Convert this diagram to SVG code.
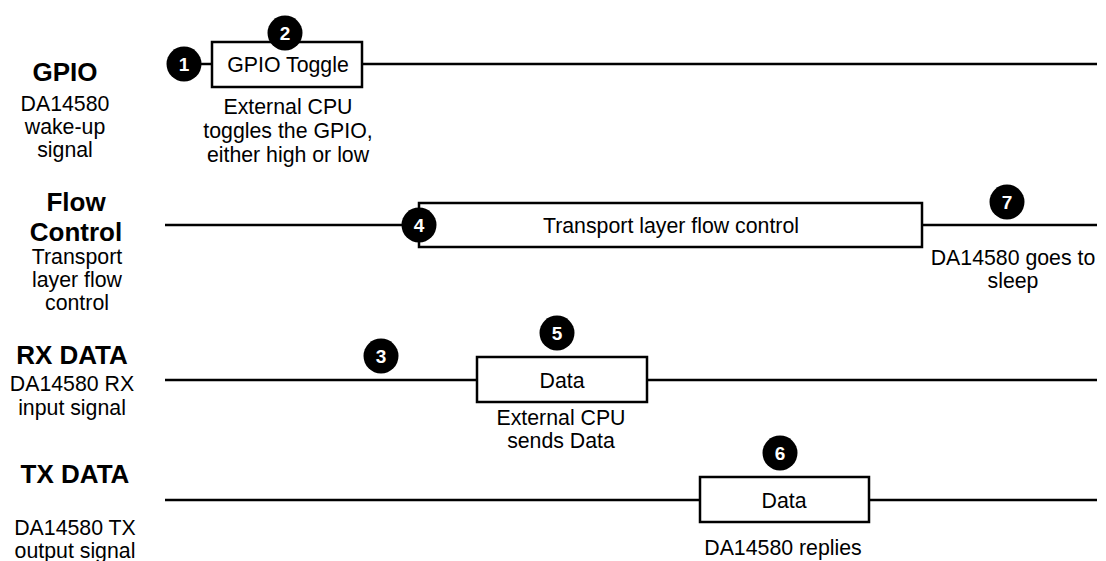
<svg xmlns="http://www.w3.org/2000/svg" width="1106" height="561" viewBox="0 0 1106 561">
<style>
.t{font-family:"Liberation Sans",Arial,sans-serif;font-size:21.3px;fill:#000;text-anchor:middle}
.h{font-family:"Liberation Sans",Arial,sans-serif;font-size:26px;font-weight:bold;fill:#000;text-anchor:middle}
.n{font-family:"Liberation Sans",Arial,sans-serif;font-size:19px;font-weight:bold;fill:#fff;text-anchor:middle}
.ln{stroke:#000;stroke-width:2.5;fill:none}
.bx{stroke:#000;stroke-width:2.5;fill:#fff}
.c{fill:#000}
</style>
<rect width="1106" height="561" fill="#fff"/>
<g id="connectors">
<line class="ln" x1="184" y1="64" x2="212" y2="64"/>
<line class="ln" x1="362" y1="64" x2="1097" y2="64"/>
<line class="ln" x1="165" y1="225" x2="419" y2="225"/>
<line class="ln" x1="922" y1="225" x2="1097" y2="225"/>
<line class="ln" x1="165" y1="380" x2="477" y2="380"/>
<line class="ln" x1="647" y1="380" x2="1097" y2="380"/>
<line class="ln" x1="165" y1="500" x2="700" y2="500"/>
<line class="ln" x1="869" y1="500" x2="1097" y2="500"/>
</g>
<g id="label-gpio">
<text class="h" x="65" y="81">GPIO</text>
<text class="t" x="65" y="111">DA14580</text>
<text class="t" x="65" y="134">wake-up</text>
<text class="t" x="65" y="157">signal</text>
</g>
<g id="label-flow">
<text class="h" x="76" y="211">Flow</text>
<text class="h" x="76" y="241">Control</text>
<text class="t" x="77" y="264">Transport</text>
<text class="t" x="77" y="287">layer flow</text>
<text class="t" x="77" y="310">control</text>
</g>
<g id="label-rx">
<text class="h" x="72" y="364">RX DATA</text>
<text class="t" x="72" y="391">DA14580 RX</text>
<text class="t" x="72" y="415">input signal</text>
</g>
<g id="label-tx">
<text class="h" x="75" y="483">TX DATA</text>
<text class="t" x="75" y="535">DA14580 TX</text>
<text class="t" x="75" y="558">output signal</text>
</g>
<g id="box-gpio">
<rect class="bx" x="212" y="42" width="150" height="45"/>
<text class="t" x="288" y="72">GPIO Toggle</text>
<text class="t" x="288" y="114">External CPU</text>
<text class="t" x="288" y="138">toggles the GPIO,</text>
<text class="t" x="288" y="162">either high or low</text>
</g>
<g id="box-flow">
<rect class="bx" x="419" y="203" width="503" height="44"/>
<text class="t" x="671" y="233">Transport layer flow control</text>
<text class="t" x="1013" y="265">DA14580 goes to</text>
<text class="t" x="1013" y="288">sleep</text>
</g>
<g id="box-rx">
<rect class="bx" x="477" y="357" width="170" height="45"/>
<text class="t" x="562" y="388">Data</text>
<text class="t" x="561" y="425">External CPU</text>
<text class="t" x="561" y="448">sends Data</text>
</g>
<g id="box-tx">
<rect class="bx" x="700" y="477" width="169" height="45"/>
<text class="t" x="784" y="508">Data</text>
<text class="t" x="783" y="555">DA14580 replies</text>
</g>
<g id="step-1"><circle class="c" cx="184" cy="64" r="17.5"/><text class="n" x="184" y="71">1</text></g>
<g id="step-2"><circle class="c" cx="285" cy="33" r="17.5"/><text class="n" x="285" y="40">2</text></g>
<g id="step-3"><circle class="c" cx="381" cy="356" r="17.5"/><text class="n" x="381" y="363">3</text></g>
<g id="step-4"><circle class="c" cx="419" cy="225" r="17.5"/><text class="n" x="419" y="232">4</text></g>
<g id="step-5"><circle class="c" cx="557" cy="333" r="17.5"/><text class="n" x="557" y="340">5</text></g>
<g id="step-6"><circle class="c" cx="780" cy="453" r="17.5"/><text class="n" x="780" y="460">6</text></g>
<g id="step-7"><circle class="c" cx="1007" cy="202" r="17.5"/><text class="n" x="1007" y="209">7</text></g>
</svg>
